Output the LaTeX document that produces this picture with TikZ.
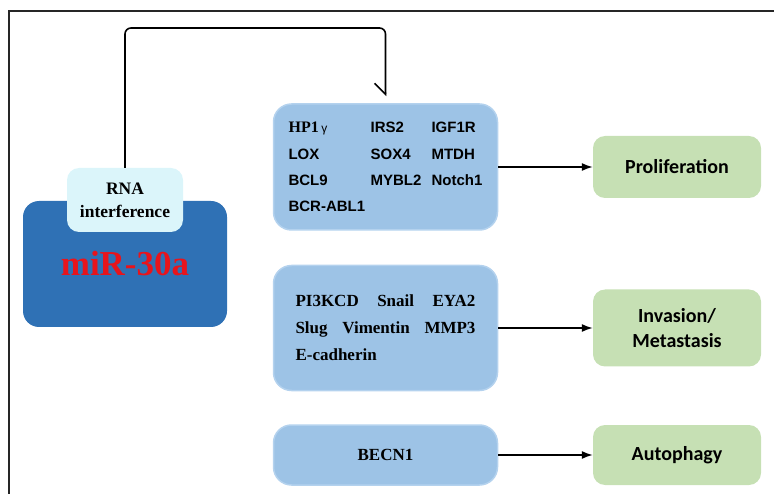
\documentclass[tikz,border=0pt]{standalone}
\usepackage{fontspec}
\setmainfont{Liberation Serif}
\setsansfont{Liberation Sans}
\newfontfamily\carlito{Carlito}
\usetikzlibrary{arrows.meta}

\definecolor{mirblue}{HTML}{2F71B5}
\definecolor{rnacyan}{HTML}{DBF5FA}
\definecolor{geneblue}{HTML}{9DC3E6}
\definecolor{geneedge}{HTML}{B4D2EE}
\definecolor{outgreen}{HTML}{C6E0B4}
\definecolor{mirred}{HTML}{E8141C}

\begin{document}
\begin{tikzpicture}[x=1pt,y=-1pt,
    genes/.style={fill=geneblue, draw=geneedge, line width=1.5pt, rounded corners=18pt,
        minimum width=224pt, inner sep=0pt, text centered},
    outcome/.style={fill=outgreen, rounded corners=12pt, minimum width=168pt, inner sep=0pt,
        align=center, font=\carlito\bfseries\fontsize{20}{25}\selectfont},
    effect/.style={line width=1.5pt, -{Latex[length=11pt,width=8pt]}}]
\useasboundingbox (0,0) rectangle (774,494);

% frame
\draw[line width=2.5pt, black!85] (9,494) -- (9,11) -- (774,11);

    \node[fill=mirblue, rounded corners=16pt, minimum width=204pt, minimum height=126pt,
        font=\bfseries\fontsize{35}{40}\selectfont, text=mirred] (1) at (125,264) {\raisebox{-4pt}{miR-30a}};
    \node[fill=rnacyan, rounded corners=12pt, minimum width=116pt, minimum height=64pt,
        inner sep=0pt, align=center, font=\bfseries\fontsize{17.5}{23}\selectfont] (2) at (125,200) {RNA\\interference};

    \node[genes, minimum height=126pt, font=\sffamily\bfseries\fontsize{15}{26.3}\selectfont] (3) at (385.5,167)
        {\begin{tabular}{@{}l@{}l@{}l@{}}
        \makebox[82pt][l]{{\rmfamily\fontsize{16}{16}\selectfont HP1}\,{\mdseries\fontsize{12}{12}\selectfont γ}}
            & \makebox[61pt][l]{IRS2} & IGF1R\\
        LOX & SOX4 & MTDH\\
        BCL9 & MYBL2 & Notch1\\
        BCR-ABL1 & & \\
        \end{tabular}};
    \node[genes, minimum height=125pt, align=left, font=\bfseries\fontsize{17}{27}\selectfont] (4) at (385.5,328)
        {\makebox[180pt][s]{PI3KCD Snail EYA2}\\\makebox[180pt][s]{Slug Vimentin MMP3}\\E-cadherin};
    \node[genes, minimum height=60pt, font=\bfseries\fontsize{17}{20}\selectfont] (5) at (385.5,455) {BECN1};

    \node[outcome, minimum height=62pt] (6) at (677,167) {Proliferation};
    \node[outcome, minimum height=77pt] (7) at (677,328) {Invasion/\\Metastasis};
    \node[outcome, minimum height=60pt] (8) at (677,455) {Autophagy};

\coordinate (bend) at (0,28);
\draw[line width=1.6pt, rounded corners=6pt, shorten >=7pt, -{Straight Barb[right,length=11pt]}]
    (2.north) |- (3.north |- bend) -- (3.north);

\draw[effect] (3) -- (6);
\draw[effect] (4) -- (7);
\draw[effect] (5) -- (8);
\end{tikzpicture}
\end{document}
